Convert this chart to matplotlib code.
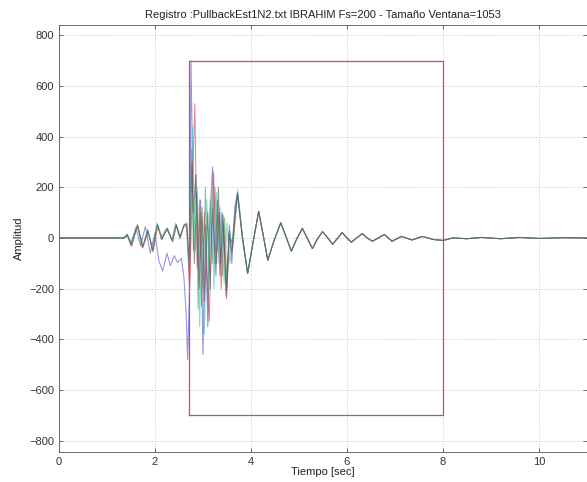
import matplotlib
matplotlib.use('Agg')
import matplotlib.pyplot as plt

plt.rcParams['font.family'] = ['Liberation Sans', 'DejaVu Sans']

# shared coda (all channels overlap here)
coda_t = [3.93, 4.05, 4.16, 4.26, 4.35, 4.48, 4.62, 4.73, 4.84, 4.95, 5.07, 5.17, 5.28, 5.38,
          5.49, 5.6, 5.7, 5.8, 5.9, 6.0, 6.09, 6.2, 6.32, 6.42, 6.53, 6.65, 6.78, 6.86, 6.94,
          7.13, 7.36, 7.57, 7.8, 8.0, 8.2, 8.5, 8.8, 9.2, 9.6, 10.0, 10.5, 11.0]
coda_a = [-140, -10, 105, 5, -88, -10, 60, 5, -52, -5, 38, 0, -42, -5,
          25, 0, -25, -2, 21, 0, -17, 0, 17, 0, -13, 0, 13, 0, -13,
          6, -8, 6, -6, -10, 0, -3, 2, -3, 2, -2, 1, 0]

blue_t = [0, 1.35, 1.42, 1.5, 1.6, 1.7, 1.8, 1.9, 2.0, 2.08, 2.16, 2.25, 2.32, 2.4, 2.47, 2.55,
          2.6, 2.65, 2.68, 2.72, 2.75, 2.8, 2.85, 2.9, 2.95, 3.0, 3.05, 3.1, 3.15, 3.2, 3.25,
          3.3, 3.35, 3.4, 3.45, 3.5, 3.55, 3.6, 3.66, 3.72, 3.82]
blue_a = [0, 0, 15, -20, 40, -30, 45, -60, 20, -90, -130, -60, -110, -70, -97, -80,
          -150, -300, -480, -200, 700, 100, 250, -100, 150, -460, 50, -350, 100, 280, -100,
          150, -150, 100, -50, -200, 50, -100, 120, 180, 10]

green_t = [0, 1.35, 1.42, 1.5, 1.64, 1.75, 1.85, 1.95, 2.05, 2.14, 2.25, 2.36, 2.44, 2.52, 2.6,
           2.66, 2.72, 2.76, 2.8, 2.85, 2.9, 2.95, 3.0, 3.05, 3.1, 3.15, 3.2, 3.25, 3.3, 3.35,
           3.4, 3.45, 3.5, 3.55, 3.62, 3.72, 3.82]
green_a = [0, 0, 12, -28, 48, -35, 30, -45, 55, -5, 35, -10, 55, 0, 45,
           60, -150, 350, -50, 250, -280, 100, -200, 200, -250, 150, -100, 200, -50, 120,
           -150, 80, -180, 30, -40, 170, 5]

red_t = [0, 1.35, 1.43, 1.52, 1.63, 1.74, 1.86, 1.96, 2.06, 2.15, 2.26, 2.37, 2.45, 2.53, 2.61,
         2.66, 2.72, 2.78, 2.83, 2.88, 2.93, 2.97, 3.03, 3.08, 3.13, 3.18, 3.22, 3.28, 3.33,
         3.38, 3.43, 3.49, 3.55, 3.62, 3.72, 3.82]
red_a = [0, 0, 8, -32, 52, -40, 25, -55, 50, 0, 40, -15, 50, 5, 55,
         50, -200, 200, 530, -120, 150, -270, 100, -150, -330, 50, 260, -100, 100,
         -200, 50, -240, 0, -20, 180, 0]

cyan_t = [0, 1.35, 1.42, 1.51, 1.63, 1.76, 1.84, 1.95, 2.04, 2.13, 2.24, 2.35, 2.43, 2.52, 2.6,
          2.66, 2.7, 2.78, 2.84, 2.88, 2.93, 2.98, 3.03, 3.08, 3.13, 3.18, 3.23, 3.28, 3.33,
          3.38, 3.44, 3.5, 3.56, 3.64, 3.72, 3.82]
cyan_a = [0, 0, 14, -22, 45, -30, 35, -40, 58, 5, 38, -5, 58, -5, 50,
          40, -100, 440, -50, 200, -350, 80, -380, 150, -150, 200, -200, 180, -100,
          100, -180, 60, -100, 50, 190, 5]

black_t = [0, 1.35, 1.43, 1.5, 1.64, 1.74, 1.85, 1.95, 2.05, 2.14, 2.25, 2.36, 2.44, 2.52, 2.6,
           2.66, 2.72, 2.77, 2.82, 2.87, 2.92, 2.98, 3.03, 3.1, 3.15, 3.2, 3.27, 3.32, 3.37,
           3.42, 3.48, 3.54, 3.6, 3.66, 3.72, 3.82]
black_a = [0, 0, 10, -30, 50, -36, 28, -50, 52, -8, 36, -12, 52, 2, 48,
           55, -100, 300, -100, 180, -200, 120, -250, 100, -200, 120, -150, 200, -100,
           90, -230, 20, -60, 80, 175, 0]

channels = [(blue_t, blue_a, '#4848c8'), (green_t, green_a, '#40a040'),
            (red_t, red_a, '#c83c3c'), (cyan_t, cyan_a, '#40c0c0'),
            (black_t, black_a, '#505050')]

win_start = 2.7
win_end = 8.0
win_amp = 700

fig = plt.figure(figsize=(5.87, 4.82), dpi=100)
ax = fig.add_axes([0.1005, 0.062, 0.8995, 0.886])

for t, a, col in channels:
    ax.plot(t + coda_t, a + coda_a, color=col, lw=0.75, alpha=0.6)

ax.plot([win_start, win_start, win_end, win_end, win_start],
        [-win_amp, win_amp, win_amp, -win_amp, -win_amp], color='#c04898', lw=0.9,
        zorder=5)

ax.set_xlim(0, 11)
ax.set_ylim(-845, 840)
ax.set_xticks([0, 2, 4, 6, 8, 10])
ax.set_yticks(range(-800, 801, 200))
ax.grid(True, color='#c8c8c8', linestyle=':', linewidth=0.7)
ax.tick_params(direction='in', top=True, right=True, labelsize=8, colors='#333333',
               length=3, width=0.5)
for s in ax.spines.values():
    s.set_color('#555555')
    s.set_linewidth(0.6)

ax.set_title('Registro :PullbackEst1N2.txt IBRAHIM Fs=200 - Tamaño Ventana=1053',
             fontsize=8, color='#222222', pad=5)
ax.set_xlabel('Tiempo [sec]', fontsize=8, color='#222222', labelpad=0)
ax.set_ylabel('Amplitud', fontsize=8, color='#222222', labelpad=4)

fig.savefig('out.png', dpi=100)
